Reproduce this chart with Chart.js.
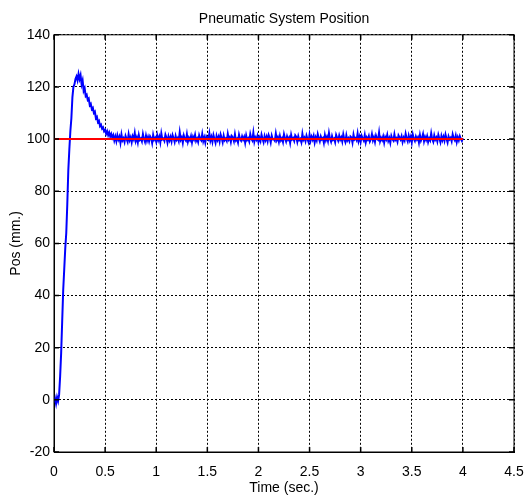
<!DOCTYPE html>
<html>
<head>
<meta charset="utf-8">
<title>Pneumatic System Position</title>
<script src="https://cdn.jsdelivr.net/npm/chart.js@4.4.1/dist/chart.umd.min.js"></script>
<style>
  html, body { margin: 0; padding: 0; background: #fff; }
  #wrap { position: relative; width: 524px; height: 497px; }
</style>
</head>
<body>
<div id="wrap"><canvas id="chart"></canvas></div>
<script>
"use strict";

// logged position, one sample every 10 ms
const sampleStep = 0.01;

// 0.00 .. 0.60 s : step response and overshoot (mm)
const riseSamples = [
  -1, 0.5, -1.5, 1, -0.5, 2, 9, 18, 30, 42,
  50, 58, 64, 75, 88, 96, 103, 108, 116, 120,
  121, 123, 124, 122.5, 125, 123, 124.5, 121, 122.5, 118.5,
  119.5, 116.5, 117, 115, 115.5, 113, 113.5, 111.5, 112, 110,
  110.5, 108, 108.5, 106.5, 107, 105, 105.5, 104, 104.5, 103,
  103.5, 102, 103, 101.5, 102.5, 101, 102, 100.5, 101.5, 99.5,
  101
];

// 0.61 .. 4.00 s : settled around the set point (mm)
const settledSamples = [
  99.2, 101.4, 99.8, 100.9, 98.6, 101.7, 99.5, 100.3, 98.9, 101.2, 100.1, 99.0, 101.8, 99.6, 100.7, 98.8, 101.0, 99.9, 102.3, 99.3,
  100.6, 98.7, 101.5, 99.7, 100.2, 99.1, 101.9, 100.0, 98.9, 101.3, 99.4, 100.8, 99.2, 101.1, 100.4, 98.5, 101.6, 99.8, 100.5, 99.0,
  101.4, 99.6, 100.9, 98.8, 102.1, 99.9, 100.2, 99.3, 101.7, 100.6, 98.7, 101.0, 99.5, 100.8, 99.1, 101.5, 100.3, 98.9, 101.2, 99.7,
  100.4, 99.2, 102.6, 99.8, 100.7, 98.6, 101.3, 100.0, 99.4, 101.8, 99.0, 100.5, 99.6, 101.1, 98.8, 100.9, 99.9, 101.6, 99.3, 100.2,
  98.9, 101.4, 100.1, 99.5, 101.9, 99.2, 100.6, 98.7, 101.0, 100.3, 99.8, 102.2, 99.4, 100.8, 99.0, 101.5, 100.0, 98.6, 101.2, 99.7,
  100.9, 99.1, 101.7, 100.4, 98.8, 101.3, 99.6, 100.2, 99.3, 102.0, 99.9, 100.7, 98.9, 101.1, 100.5, 99.2, 101.8, 99.5, 100.1, 98.7,
  101.6, 100.0, 99.4, 101.0, 99.8, 100.8, 98.6, 101.4, 99.7, 100.3, 99.1, 101.9, 100.2, 99.5, 102.4, 99.0, 100.6, 99.8, 101.2, 98.9,
  100.5, 99.3, 101.7, 100.1, 98.8, 101.1, 99.6, 100.9, 99.2, 101.5, 100.4, 98.7, 101.3, 99.9, 100.0, 99.4, 102.1, 99.7, 100.7, 99.0,
  101.2, 99.5, 100.3, 98.9, 101.8, 100.2, 99.1, 101.0, 99.8, 100.6, 98.6, 101.6, 99.9, 100.4, 99.3, 101.4, 100.8, 99.0, 101.1, 99.6,
  100.1, 98.8, 102.0, 99.7, 100.5, 99.2, 101.3, 100.0, 98.9, 101.7, 99.4, 100.9, 99.8, 101.2, 98.7, 100.6, 99.5, 101.9, 100.3, 99.1,
  101.0, 99.9, 100.4, 98.6, 101.5, 99.6, 100.8, 99.3, 102.3, 100.1, 99.0, 101.1, 99.7, 100.2, 98.8, 101.6, 100.5, 99.4, 101.3, 99.8,
  100.7, 99.1, 101.8, 100.0, 98.9, 101.4, 99.5, 100.3, 99.2, 101.0, 100.6, 98.7, 101.7, 99.9, 100.4, 99.6, 102.1, 99.3, 100.9, 99.0,
  101.2, 100.2, 99.4, 101.5, 98.8, 100.6, 99.8, 101.1, 99.1, 100.0, 101.9, 99.5, 100.7, 98.9, 101.3, 100.1, 99.7, 102.5, 99.2, 100.5,
  99.6, 101.0, 98.7, 100.8, 99.9, 101.6, 99.3, 100.4, 98.6, 101.2, 100.0, 99.4, 101.8, 99.7, 100.3, 99.0, 101.4, 100.6, 99.8, 101.1,
  98.9, 100.5, 99.5, 102.0, 100.2, 99.1, 101.3, 99.6, 100.9, 98.8, 101.7, 100.1, 99.3, 101.0, 99.9, 100.7, 98.7, 101.5, 99.4, 100.4,
  101.9, 99.2, 100.8, 99.7, 101.1, 98.9, 100.3, 99.5, 102.2, 100.0, 99.0, 101.4, 99.8, 100.6, 99.1, 101.6, 100.2, 98.8, 101.2, 99.6,
  100.9, 99.4, 101.7, 100.1, 98.7, 101.0, 99.9, 100.5, 99.2, 101.8, 100.3, 99.6, 101.3, 98.9, 100.7, 99.5, 101.1, 100.0, 99.3, 100.4
];

// reference (set point) line
const setpointTimes = [0, 4];
const setpointValues = [100, 100];

const xTicks = [0, 0.5, 1, 1.5, 2, 2.5, 3, 3.5, 4, 4.5];
const yTicks = [-20, 0, 20, 40, 60, 80, 100, 120, 140];

const positionPoints = riseSamples.concat(settledSamples)
  .map((v, i) => ({ x: +(i * sampleStep).toFixed(2), y: v }));
const setpointPoints = setpointTimes.map((t, i) => ({ x: t, y: setpointValues[i] }));

// box round the axes plus the short inner tick marks, like the matlab figure
const matlabFrame = {
  id: 'matlabFrame',
  afterDraw(chart) {
    const { ctx, chartArea: a, scales } = chart;
    const len = 5;
    ctx.save();
    ctx.strokeStyle = '#000';
    ctx.lineWidth = 1.5;
    ctx.setLineDash([]);
    ctx.beginPath();
    xTicks.forEach(v => {
      const px = scales.x.getPixelForValue(v);
      ctx.moveTo(px, a.bottom); ctx.lineTo(px, a.bottom - len);
      ctx.moveTo(px, a.top); ctx.lineTo(px, a.top + len);
    });
    yTicks.forEach(v => {
      const py = scales.y.getPixelForValue(v);
      ctx.moveTo(a.left, py); ctx.lineTo(a.left + len, py);
      ctx.moveTo(a.right, py); ctx.lineTo(a.right - len, py);
    });
    ctx.stroke();
    ctx.lineWidth = 1;
    ctx.strokeRect(a.left, a.top, a.right - a.left, a.bottom - a.top);
    ctx.restore();
  }
};

Chart.defaults.font.family = '"Liberation Sans", Arial, sans-serif';
Chart.defaults.font.size = 14;
Chart.defaults.color = '#000';

new Chart(document.getElementById('chart'), {
  type: 'line',
  data: {
    datasets: [
      {
        label: 'Set point',
        data: setpointPoints,
        borderColor: '#ff0000',
        borderWidth: 2,
        pointRadius: 0,
        tension: 0
      },
      {
        label: 'Position',
        data: positionPoints,
        borderColor: '#0000ff',
        borderWidth: 2,
        pointRadius: 0,
        tension: 0
      }
    ]
  },
  plugins: [matlabFrame],
  options: {
    responsive: true,
    maintainAspectRatio: false,
    animation: false,
    events: [],
    layout: { padding: 0 },
    plugins: {
      legend: { display: false },
      tooltip: { enabled: false },
      title: {
        display: true,
        fullSize: false, // centre over the axes, not the whole canvas
        text: 'Pneumatic System Position',
        font: { size: 14, weight: 'normal' },
        padding: { top: 11, bottom: 7 }
      }
    },
    scales: {
      x: {
        type: 'linear',
        min: 0,
        max: 4.5,
        afterBuildTicks: scale => { scale.ticks = xTicks.map(v => ({ value: v })); },
        afterFit: scale => {
          scale.height = 45;
          // the 4.5 label is allowed to run off the right edge, as in the figure
          scale.paddingRight = 10;
          scale.paddingLeft = 0;
        },
        ticks: { padding: 12, maxRotation: 0, autoSkip: false, callback: v => String(v) },
        grid: { color: '#000', lineWidth: 1, drawTicks: false },
        border: { display: true, color: '#000', dash: [2, 2] },
        title: {
          display: true,
          text: 'Time (sec.)',
          font: { size: 14 },
          padding: { top: 0, bottom: 0 }
        }
      },
      y: {
        min: -20,
        max: 140,
        afterBuildTicks: scale => { scale.ticks = yTicks.map(v => ({ value: v })); },
        afterFit: scale => { scale.width = 54; },
        ticks: { padding: 4, autoSkip: false, callback: v => String(v) },
        grid: { color: '#000', lineWidth: 1, drawTicks: false },
        border: { display: true, color: '#000', dash: [2, 2] },
        title: {
          display: true,
          text: 'Pos (mm.)',
          font: { size: 14 },
          padding: { top: 8, bottom: 0 }
        }
      }
    }
  }
});
</script>
</body>
</html>
